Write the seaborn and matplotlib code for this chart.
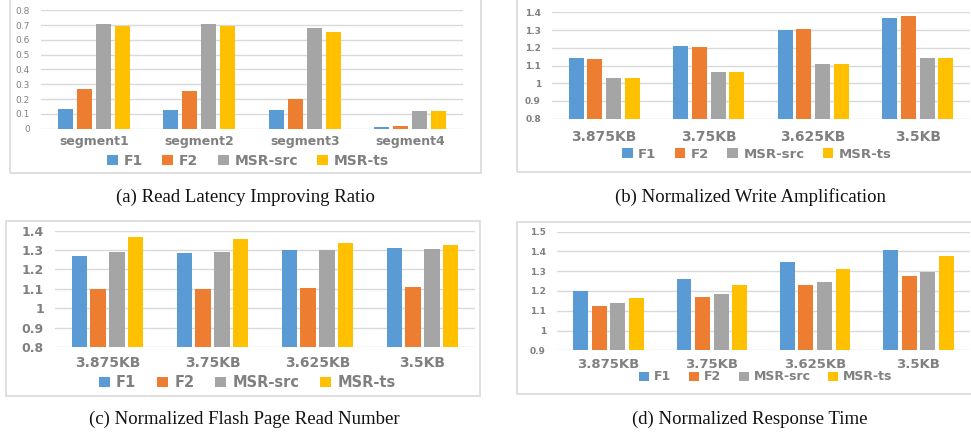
import pandas as pd
import numpy as np
import matplotlib
matplotlib.use("Agg")
import matplotlib.pyplot as plt
import seaborn as sns
from matplotlib.patches import Rectangle

sns.set_style("white")

W, H = 971, 433

series = ["F1", "F2", "MSR-src", "MSR-ts"]
colors = ["#5B9BD5", "#ED7D31", "#A5A5A5", "#FFC000"]

segments = ["segment1", "segment2", "segment3", "segment4"]
sizes = ["3.875KB", "3.75KB", "3.625KB", "3.5KB"]

# (a) read latency improving ratio, per series over segments
read_lat_f1 = [0.135, 0.128, 0.128, 0.010]
read_lat_f2 = [0.270, 0.257, 0.202, 0.018]
read_lat_src = [0.710, 0.708, 0.680, 0.122]
read_lat_ts = [0.695, 0.690, 0.652, 0.117]

# (b) normalized write amplification
write_amp_f1 = [1.143, 1.210, 1.302, 1.370]
write_amp_f2 = [1.137, 1.207, 1.305, 1.380]
write_amp_src = [1.030, 1.065, 1.110, 1.142]
write_amp_ts = [1.030, 1.065, 1.110, 1.142]

# (c) normalized flash page read number
page_read_f1 = [1.272, 1.284, 1.300, 1.313]
page_read_f2 = [1.097, 1.100, 1.106, 1.112]
page_read_src = [1.290, 1.292, 1.303, 1.308]
page_read_ts = [1.368, 1.355, 1.338, 1.326]

# (d) normalized response time
resp_f1 = [1.200, 1.262, 1.348, 1.405]
resp_f2 = [1.125, 1.170, 1.230, 1.277]
resp_src = [1.138, 1.186, 1.248, 1.297]
resp_ts = [1.167, 1.230, 1.313, 1.377]

TXT = "#808080"
GRID = "#d9d9d9"


def to_long(cats, cols):
    rows = []
    for name, vals in zip(series, cols):
        for c, v in zip(cats, vals):
            rows.append({"cat": c, "series": name, "value": v})
    return pd.DataFrame(rows)


def frac_rect(x0, y0, x1, y1):
    return [x0 / W, 1 - y1 / H, (x1 - x0) / W, (y1 - y0) / H]


def panel(fig, plot_px, box_px, df, ylim, yticks, ylabels, ytick_size, ytick_weight,
          xtick_size, xpad, leg_xy, leg_size, caption, cap_xy):
    ax = fig.add_axes(frac_rect(*plot_px))
    sns.barplot(data=df, x="cat", y="value", hue="series", palette=colors,
                saturation=1, width=0.72, gap=0.2, linewidth=0, ax=ax, errorbar=None)
    ax.set_ylim(*ylim)
    ax.set_xlim(-0.5, 3.5)
    ax.set_yticks(yticks)
    ax.set_yticklabels(ylabels, fontsize=ytick_size, fontweight=ytick_weight, color=TXT)
    ax.tick_params(axis="x", length=0, pad=xpad)
    ax.tick_params(axis="y", length=0, pad=8)
    for t in ax.get_xticklabels():
        t.set_fontsize(xtick_size)
        t.set_fontweight("bold")
        t.set_color(TXT)
    ax.set_xlabel("")
    ax.set_ylabel("")
    ax.grid(axis="y", color=GRID, linewidth=1)
    ax.set_axisbelow(True)
    for s in ax.spines.values():
        s.set_visible(False)
    handles, labels = ax.get_legend_handles_labels()
    ax.get_legend().remove()
    leg = ax.legend(handles, labels, loc="center", ncol=4, frameon=False,
                    bbox_to_anchor=(leg_xy[0] / W, 1 - leg_xy[1] / H),
                    bbox_transform=fig.transFigure,
                    handlelength=0.8, handleheight=0.7, handletextpad=0.4,
                    columnspacing=1.4,
                    prop={"size": leg_size, "weight": "bold"})
    for t in leg.get_texts():
        t.set_color(TXT)
    bx0, by0, bx1, by1 = box_px
    fig.patches.append(Rectangle((bx0 / W, 1 - by1 / H), (bx1 - bx0) / W, (by1 - by0) / H,
                                 transform=fig.transFigure, fill=False,
                                 edgecolor=GRID, linewidth=1.2))
    fig.text(cap_xy[0] / W, 1 - cap_xy[1] / H, caption, ha="center", va="center",
             fontsize=13.5, family="Liberation Serif", color="#111111")
    return ax


fig = plt.figure(figsize=(W / 100, H / 100), dpi=100)

panel(fig, (41, 10.2, 463, 128.7), (10, -20, 481, 172.7),
      to_long(segments, [read_lat_f1, read_lat_f2, read_lat_src, read_lat_ts]),
      (0, 0.8), np.arange(0, 0.81, 0.1),
      ["0", "0.1", "0.2", "0.3", "0.4", "0.5", "0.6", "0.7", "0.8"], 6.5, "normal",
      9, 4.5, (248, 160.7), 10, "(a) Read Latency Improving Ratio", (245, 197))

panel(fig, (552, 12.3, 970, 118.7), (517, -20, 990, 171.7),
      to_long(sizes, [write_amp_f1, write_amp_f2, write_amp_src, write_amp_ts]),
      (0.8, 1.4), np.arange(0.8, 1.41, 0.1),
      ["0.8", "0.9", "1", "1.1", "1.2", "1.3", "1.4"], 6.5, "bold",
      10, 8, (757, 154), 9.5, "(b) Normalized Write Amplification", (750, 197))

panel(fig, (55, 230.7, 475, 347), (6, 221.3, 480, 395.7),
      to_long(sizes, [page_read_f1, page_read_f2, page_read_src, page_read_ts]),
      (0.8, 1.4), np.arange(0.8, 1.41, 0.1),
      ["0.8", "0.9", "1", "1.1", "1.2", "1.3", "1.4"], 9, "bold",
      10, 6.5, (247, 382.7), 10.5, "(c) Normalized Flash Page Read Number", (244, 419))

panel(fig, (557, 231.7, 970, 350.3), (517, 222.3, 990, 393.7),
      to_long(sizes, [resp_f1, resp_f2, resp_src, resp_ts]),
      (0.9, 1.5), np.arange(0.9, 1.51, 0.1),
      ["0.9", "1", "1.1", "1.2", "1.3", "1.4", "1.5"], 6.5, "bold",
      9.5, 5.5, (766, 377), 9, "(d) Normalized Response Time", (750, 419))

fig.savefig("out.png", dpi=100)
